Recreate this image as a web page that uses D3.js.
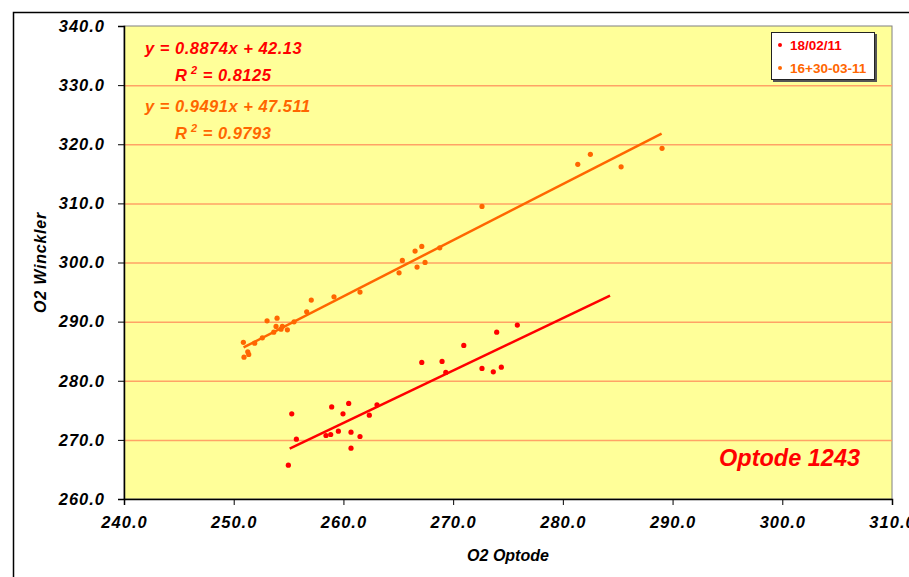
<!DOCTYPE html>
<html>
<head>
<meta charset="utf-8">
<script src="https://cdn.jsdelivr.net/npm/d3@7"></script>
<style>
    body { margin:0; background:#ffffff; }
    text { font-family: Arial, "Liberation Sans", sans-serif; }
</style>
</head>
<body>
<svg id="chart" width="909" height="577"></svg>
<script>

// series 18/02/11
var redX = [254.98,255.29,255.71,258.41,258.84,258.93,259.54,259.96,260.48,260.69,260.69,261.51,262.36,263.06,
            267.14,268.99,269.33,270.97,272.63,273.66,274.39,273.97,275.85];
var redY = [265.72,274.40,270.12,270.74,270.91,275.58,271.47,274.40,276.16,271.30,268.59,270.57,274.18,275.92,
            283.10,283.27,281.41,285.97,282.08,281.51,282.30,288.22,289.41];

// series 16+30-03-11
var orangeX = [250.88,251.28,251.37,250.94,251.91,252.61,253.04,253.95,253.86,253.65,254.31,254.43,254.89,255.50,
               256.65,257.07,259.14,261.51,265.07,265.37,266.71,266.53,267.14,267.44,268.78,272.63,
               281.36,282.51,285.31,289.04];
var orangeY = [286.50,284.90,284.45,283.99,286.36,287.26,290.13,290.59,289.19,288.22,288.73,289.19,288.61,289.97,
               291.66,293.64,294.20,294.99,298.26,300.35,299.22,301.93,302.72,300.02,302.49,309.49,
               316.60,318.29,316.19,319.31];

var seriesNames = ["18/02/11", "16+30-03-11"];
var seriesColors = ["#FF0000", "#FF6600"];

// trend lines y = a*x + b, drawn over these x ranges
var trendA = [0.8874, 0.9491];
var trendB = [42.13, 47.511];
var trendRange = [[255.1, 284.3], [250.9, 289.0]];
var eqText = ["y = 0.8874x + 42.13", "y = 0.9491x + 47.511"];
var r2Text = ["= 0.8125", "= 0.9793"];

var xTicks = [240,250,260,270,280,290,300,310];
var yTicks = [260,270,280,290,300,310,320,330,340];

var svg = d3.select("#chart");

var plotL = 124, plotR = 892, plotT = 26, plotB = 499;

var x = d3.scaleLinear().domain([240,310]).range([plotL,plotR]);
var y = d3.scaleLinear().domain([260,340]).range([plotB,plotT]);

// chart border
svg.append("rect")
    .attr("x",13.5).attr("y",12.5)
    .attr("width",920).attr("height",600)
    .attr("fill","none")
    .attr("stroke","#000000")
    .attr("stroke-width",1.5);

// plot area
svg.append("rect")
    .attr("x",plotL).attr("y",plotT)
    .attr("width",plotR-plotL).attr("height",plotB-plotT)
    .attr("fill","#FFFF99")
    .attr("stroke","#808080")
    .attr("stroke-width",1);

// gridlines
svg.selectAll(".grid")
    .data(yTicks.slice(1,-1))
    .enter()
    .append("line")
    .attr("class","grid")
    .attr("x1",plotL).attr("x2",plotR)
    .attr("y1",function(d){ return y(d)+0.5; })
    .attr("y2",function(d){ return y(d)+0.5; })
    .attr("stroke","#FFA366")
    .attr("stroke-width",1.5);

// axes
var xAxis = svg.append("g")
    .attr("transform","translate(0,"+plotB+")")
    .call(d3.axisBottom(x).tickValues(xTicks).tickSize(6).tickFormat(function(d){ return d.toFixed(1); }));

var yAxis = svg.append("g")
    .attr("transform","translate("+plotL+",0)")
    .call(d3.axisLeft(y).tickValues(yTicks).tickSize(6).tickFormat(function(d){ return d.toFixed(1); }));

[xAxis, yAxis].forEach(function(a){
    a.select(".domain").attr("stroke","#000000").attr("stroke-width",1.5);
    a.selectAll(".tick line").attr("stroke","#000000");
    a.selectAll(".tick text")
        .style("font-family","Arial, 'Liberation Sans', sans-serif")
        .style("font-size","16.5px")
        .style("font-weight","bold")
        .style("font-style","italic")
        .style("letter-spacing","1px")
        .attr("fill","#000000");
});
xAxis.selectAll(".tick text").attr("y",17);
yAxis.selectAll(".tick text").attr("x",-19);

// axis titles
svg.append("text")
    .attr("x",(plotL+plotR)/2)
    .attr("y",561)
    .style("text-anchor","middle")
    .style("font-size","16px")
    .style("font-weight","bold")
    .style("font-style","italic")
    .text("O2 Optode");

svg.append("text")
    .attr("transform","translate(46,"+((plotT+plotB)/2)+") rotate(-90)")
    .style("text-anchor","middle")
    .style("font-size","16px")
    .style("font-weight","bold")
    .style("font-style","italic")
    .style("letter-spacing","0.8px")
    .text("O2 Winckler");

// trend lines + points
var seriesX = [redX, orangeX];
var seriesY = [redY, orangeY];

for(var i=0; i < 2; i++){
    var a = trendA[i], b = trendB[i];
    svg.append("line")
        .attr("x1",x(trendRange[i][0]))
        .attr("y1",y(a*trendRange[i][0]+b))
        .attr("x2",x(trendRange[i][1]))
        .attr("y2",y(a*trendRange[i][1]+b))
        .attr("stroke",seriesColors[i])
        .attr("stroke-width",2.5);

    var pts = seriesX[i].map(function(v,k){ return [v, seriesY[i][k]]; });
    svg.selectAll(".pt"+i)
        .data(pts)
        .enter()
        .append("circle")
        .attr("class","pt"+i)
        .attr("cx",function(d){ return x(d[0]); })
        .attr("cy",function(d){ return y(d[1]); })
        .attr("r",2.6)
        .attr("fill",seriesColors[i]);
}

// equations
var eqY = [54, 112];
for(var i=0; i < 2; i++){
    svg.append("text")
        .attr("x",145)
        .attr("y",eqY[i])
        .style("fill",seriesColors[i])
        .style("font-size","16.5px")
        .style("font-weight","bold")
        .style("font-style","italic")
        .style("letter-spacing","0.5px")
        .text(eqText[i]);

    var r2 = svg.append("text")
        .attr("x",175)
        .attr("y",eqY[i]+27)
        .style("fill",seriesColors[i])
        .style("font-size","16.5px")
        .style("font-weight","bold")
        .style("font-style","italic")
        .style("letter-spacing","0.5px");
    r2.append("tspan").text("R");
    r2.append("tspan").attr("dy",-7).style("font-size","11px").text(" 2");
    r2.append("tspan").attr("dy",7).text("  " + r2Text[i]);
}

// legend
svg.append("rect")
    .attr("x",773).attr("y",34)
    .attr("width",104).attr("height",48)
    .attr("fill","#555555");
svg.append("rect")
    .attr("x",771.5).attr("y",32.5)
    .attr("width",103).attr("height",47)
    .attr("fill","#ffffff")
    .attr("stroke","#222222")
    .attr("stroke-width",1);

for(var i=0; i < 2; i++){
    svg.append("circle")
        .attr("cx",780)
        .attr("cy",45+i*23)
        .attr("r",2)
        .attr("fill",seriesColors[i]);
    svg.append("text")
        .attr("x",790)
        .attr("y",50+i*23)
        .style("fill",seriesColors[i])
        .style("font-size","13.5px")
        .style("font-weight","bold")
        .text(seriesNames[i]);
}

// label
svg.append("text")
    .attr("x",719)
    .attr("y",466)
    .style("fill","#FF0000")
    .style("font-size","23.5px")
    .style("font-weight","bold")
    .style("font-style","italic")
    .text("Optode 1243");

</script>
</body>
</html>
